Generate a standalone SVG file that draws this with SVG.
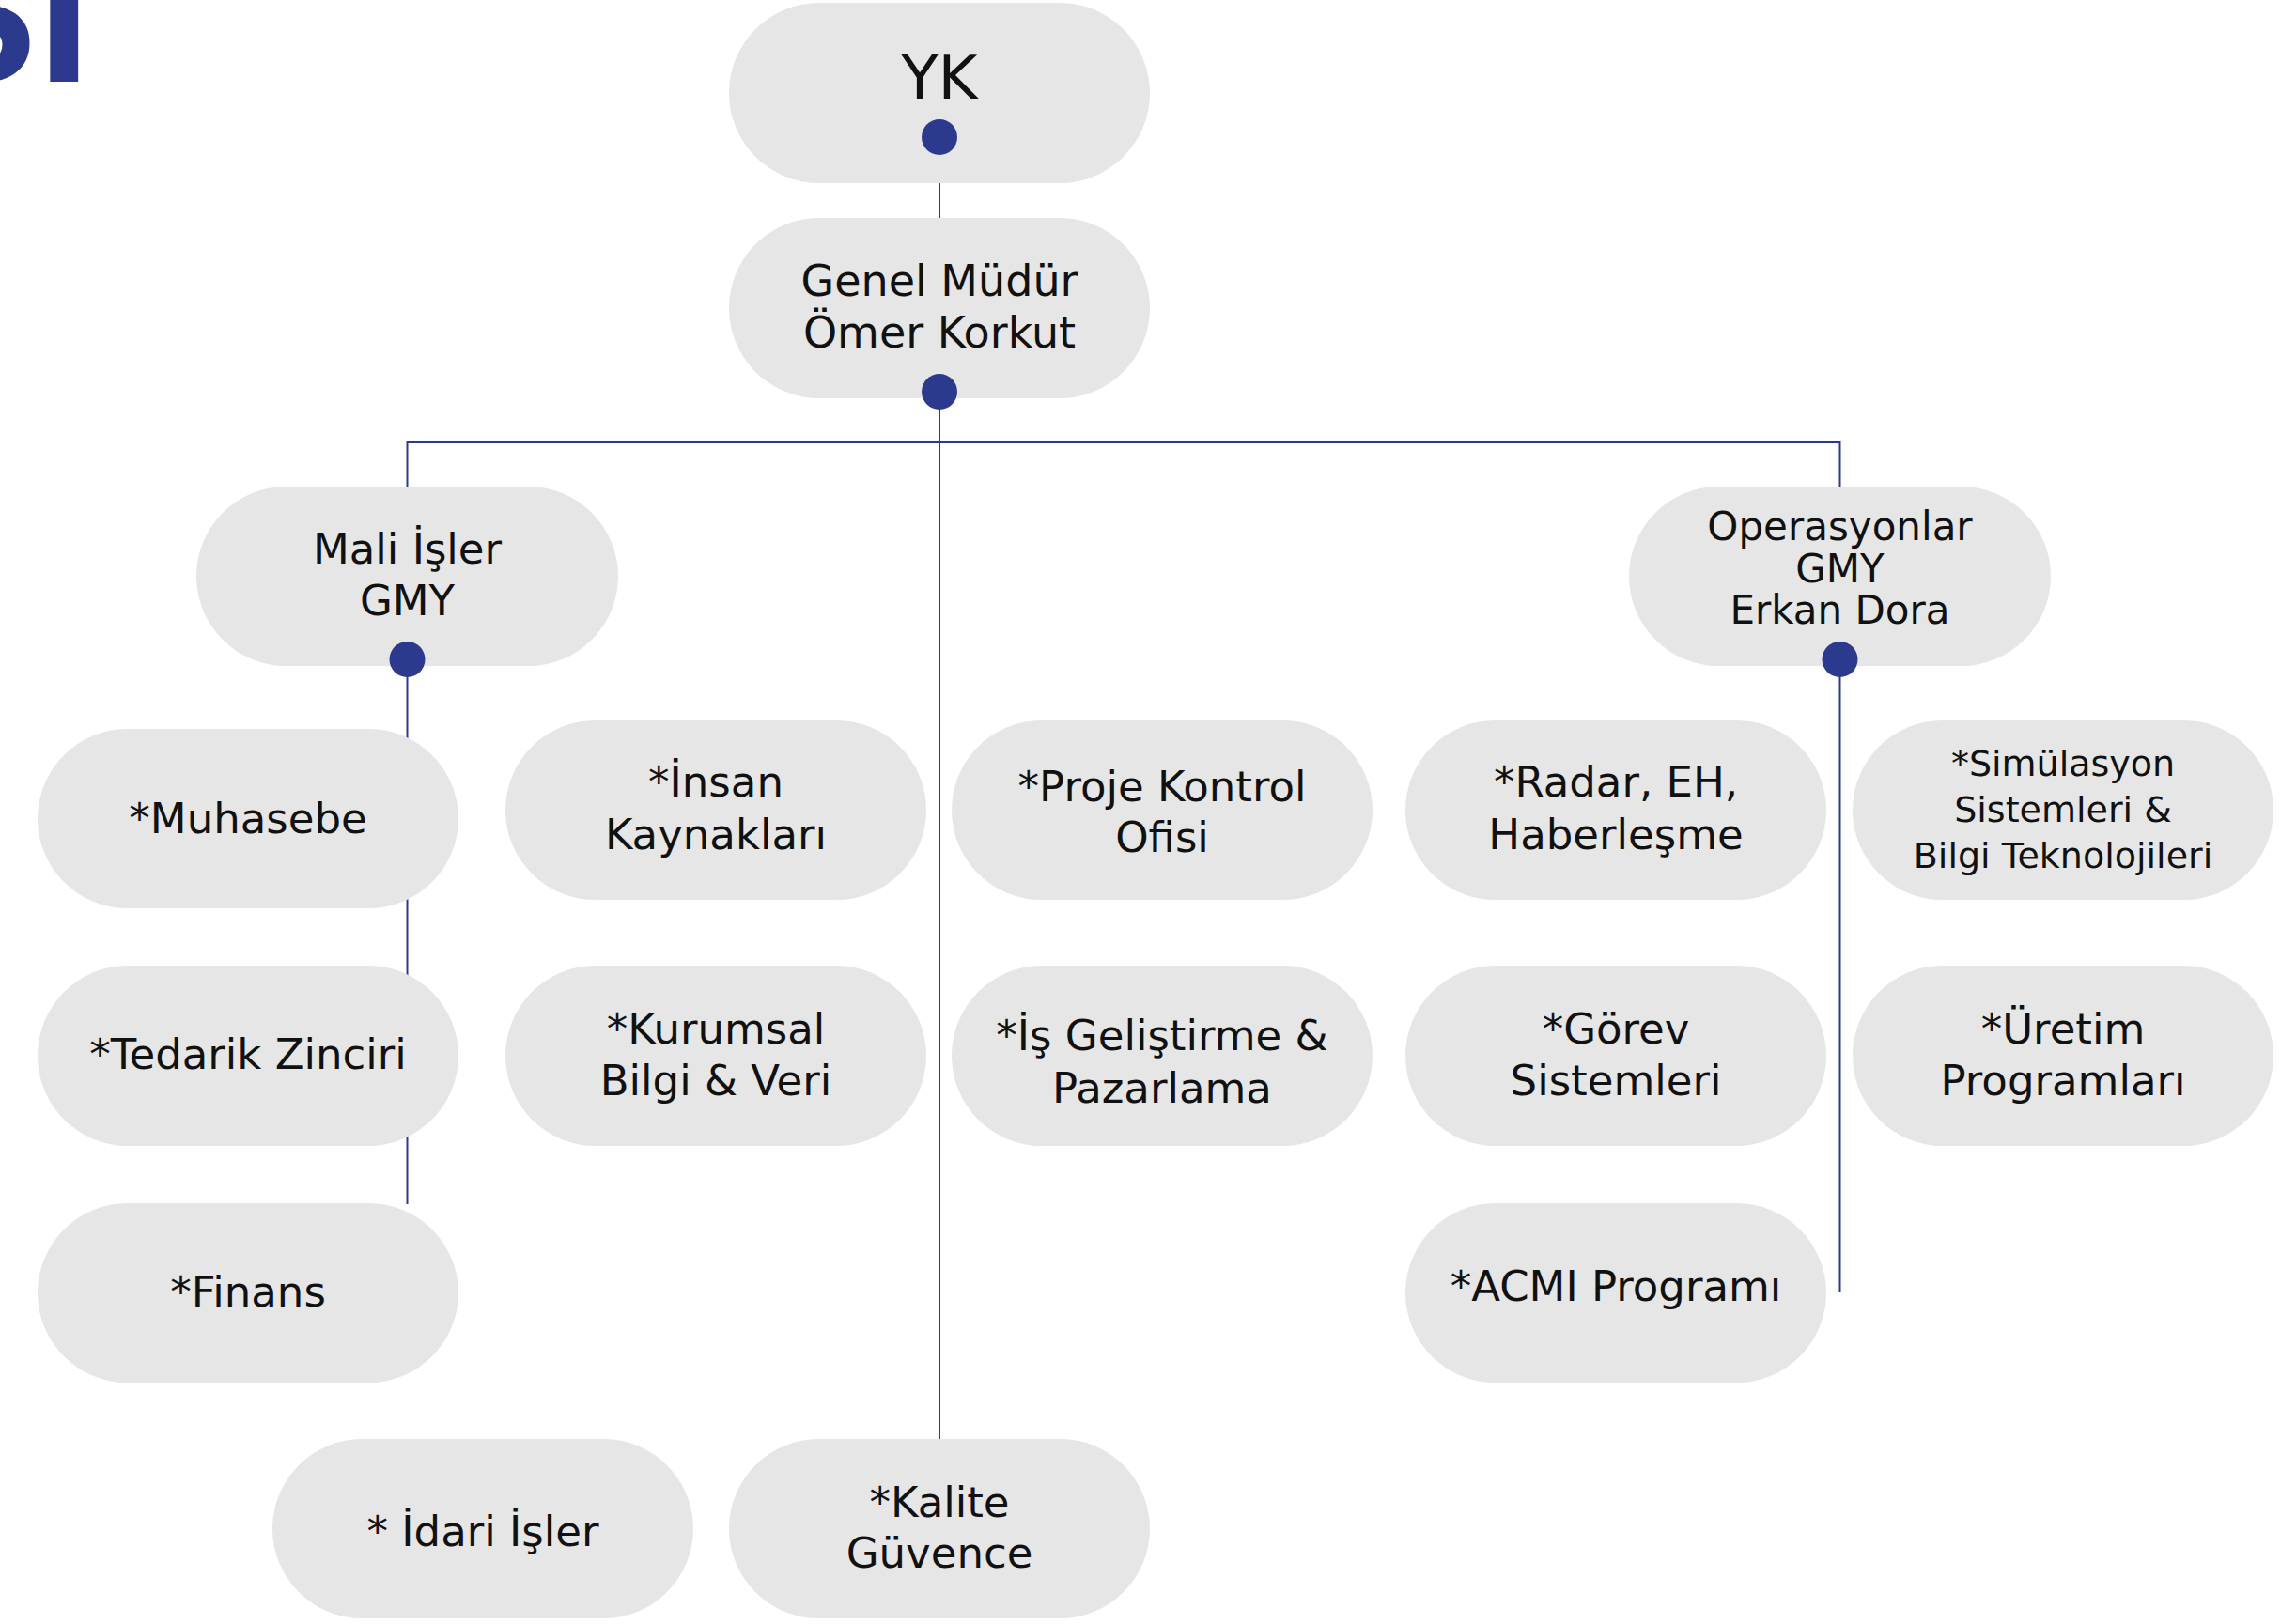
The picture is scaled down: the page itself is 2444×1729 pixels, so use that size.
<svg xmlns="http://www.w3.org/2000/svg" width="2444" height="1729" viewBox="0 0 2444 1729">
<style>
.node rect{fill:#e6e6e6}
.node text{font-family:"DejaVu Sans","Noto Sans",sans-serif;font-size:45px;fill:#111;text-anchor:middle}
.conn line{stroke:#2b3a8c;stroke-width:2;fill:none}
.dot{fill:#2b3a8c}
.title{font-family:"Liberation Sans",Arial,sans-serif;font-weight:bold;font-size:207px;fill:#2b3a8c;text-anchor:end}
</style>
<rect x="0" y="0" width="2444" height="1729" fill="#ffffff"/>
<text class="title" x="97" y="87">SI</text>
<g id="connectors" class="conn">
<line x1="1000" y1="146" x2="1000" y2="233"/>
<line x1="1000" y1="417" x2="1000" y2="1533"/>
<line x1="433.5" y1="471" x2="1958.5" y2="471"/>
<line x1="433.5" y1="470" x2="433.5" y2="519"/>
<line x1="1958.5" y1="470" x2="1958.5" y2="519"/>
<line x1="433.5" y1="702" x2="433.5" y2="1282"/>
<line x1="1958.5" y1="702" x2="1958.5" y2="1376"/>
</g>
<g id="n-yk" class="node"><rect x="776" y="3" width="448" height="192" rx="96"/><text x="1000" y="105" style="font-size:64px">YK</text></g>
<g id="n-gm" class="node"><rect x="776" y="232" width="448" height="192" rx="96"/><text x="1000" y="315" style="font-size:46px">Genel Müdür</text><text x="1000" y="370" style="font-size:46px">Ömer Korkut</text></g>
<g id="n-mali" class="node"><rect x="209" y="518" width="449" height="191" rx="95.5"/><text x="433.5" y="600">Mali İşler</text><text x="433.5" y="655">GMY</text></g>
<g id="n-oper" class="node"><rect x="1734" y="518" width="449" height="191" rx="95.5"/><text x="1958.5" y="575" style="font-size:42px">Operasyonlar</text><text x="1958.5" y="620" style="font-size:42px">GMY</text><text x="1958.5" y="664" style="font-size:42px">Erkan Dora</text></g>
<g id="n-muhasebe" class="node"><rect x="40" y="776" width="448" height="191" rx="95.5"/><text x="264" y="887">*Muhasebe</text></g>
<g id="n-insan" class="node"><rect x="538" y="767" width="448" height="191" rx="95.5"/><text x="762" y="848">*İnsan</text><text x="762" y="904">Kaynakları</text></g>
<g id="n-proje" class="node"><rect x="1013" y="767" width="448" height="191" rx="95.5"/><text x="1237" y="853">*Proje Kontrol</text><text x="1237" y="907">Ofisi</text></g>
<g id="n-radar" class="node"><rect x="1496" y="767" width="448" height="191" rx="95.5"/><text x="1720" y="848">*Radar, EH,</text><text x="1720" y="904">Haberleşme</text></g>
<g id="n-simulasyon" class="node"><rect x="1972" y="767" width="448" height="191" rx="95.5"/><text x="2196" y="826" style="font-size:38px">*Simülasyon</text><text x="2196" y="875" style="font-size:38px">Sistemleri &amp;</text><text x="2196" y="924" style="font-size:38px">Bilgi Teknolojileri</text></g>
<g id="n-tedarik" class="node"><rect x="40" y="1028" width="448" height="192" rx="96"/><text x="264" y="1138">*Tedarik Zinciri</text></g>
<g id="n-kurumsal" class="node"><rect x="538" y="1028" width="448" height="192" rx="96"/><text x="762" y="1111">*Kurumsal</text><text x="762" y="1166">Bilgi &amp; Veri</text></g>
<g id="n-isgelistirme" class="node"><rect x="1013" y="1028" width="448" height="192" rx="96"/><text x="1237" y="1118">*İş Geliştirme &amp;</text><text x="1237" y="1174">Pazarlama</text></g>
<g id="n-gorev" class="node"><rect x="1496" y="1028" width="448" height="192" rx="96"/><text x="1720" y="1111">*Görev</text><text x="1720" y="1166">Sistemleri</text></g>
<g id="n-uretim" class="node"><rect x="1972" y="1028" width="448" height="192" rx="96"/><text x="2196" y="1111">*Üretim</text><text x="2196" y="1166">Programları</text></g>
<g id="n-finans" class="node"><rect x="40" y="1281" width="448" height="191" rx="95.5"/><text x="264" y="1391">*Finans</text></g>
<g id="n-acmi" class="node"><rect x="1496" y="1281" width="448" height="191" rx="95.5"/><text x="1720" y="1385">*ACMI Programı</text></g>
<g id="n-idari" class="node"><rect x="290" y="1532" width="448" height="191" rx="95.5"/><text x="514" y="1646">* İdari İşler</text></g>
<g id="n-kalite" class="node"><rect x="776" y="1532" width="448" height="191" rx="95.5"/><text x="1000" y="1615">*Kalite</text><text x="1000" y="1669">Güvence</text></g>
<g id="dots">
<circle class="dot" cx="1000" cy="146" r="19"/>
<circle class="dot" cx="1000" cy="417" r="19"/>
<circle class="dot" cx="433.5" cy="702" r="19"/>
<circle class="dot" cx="1958.5" cy="702" r="19"/>
</g>
</svg>
